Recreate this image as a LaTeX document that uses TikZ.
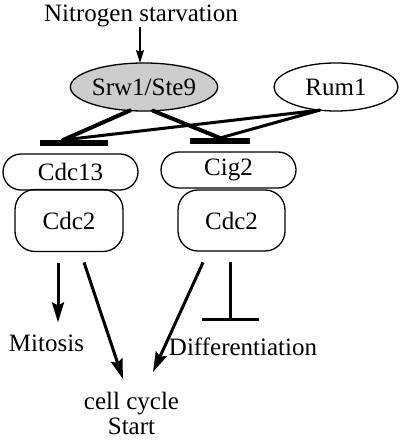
\documentclass[tikz,border=0pt]{standalone}
\usepackage{fontspec}
\setmainfont{Liberation Serif}
\usetikzlibrary{arrows.meta,shapes.geometric}

\begin{document}
\begin{tikzpicture}[x=1pt,y=1pt,
  lbl/.style={inner sep=0pt,outer sep=0pt,font=\fontsize{25}{25}\selectfont},
  prot/.style={lbl,draw=drawColor,line width=1.3pt,ellipse,minimum height=48pt},
  cplx/.style={lbl,draw=drawColor,line width=1.3pt,rounded corners=18pt},
  tbar/.style={fill=drawColor,inner sep=0pt,outer sep=0pt,minimum height=6pt},
  act/.style={draw=drawColor,line width=3pt,-{Stealth[length=20pt,width=12pt,inset=3pt]}},
  inh/.style={draw=drawColor,line width=3pt,-{Bar[width=57pt,line width=3pt]}},
  lnk/.style={draw=drawColor,line cap=round}]
\definecolor{drawColor}{RGB}{0,0,0}
\definecolor{fillColor}{RGB}{255,255,255}
\definecolor{srwColor}{RGB}{205,205,205}
\path[use as bounding box,fill=fillColor] (0,0) rectangle (400,441);

% signal and regulators
\node[lbl,anchor=base] (nitro) at (141,419) {Nitrogen starvation};
\node[prot,fill=srwColor,minimum width=144pt] (srw) at (144,354) {Srw1/Ste9};
\node[prot,minimum width=124pt] (rum) at (336,354) {Rum1};

% inhibition bars
\node[tbar,minimum width=68pt] (barL) at (74,298) {};
\node[tbar,minimum width=60pt] (barR) at (220,300) {};

% cyclin / Cdc2 complexes
\node[cplx,minimum width=135pt,minimum height=36pt] (cdc13) at (70.5,269) {Cdc13};
\node[cplx,minimum width=108pt,minimum height=62pt,rounded corners=20pt] (cdc2L) at (69,220.5) {Cdc2};
\node[cplx,minimum width=135pt,minimum height=36pt] (cig2) at (228.5,271) {Cig2};
\node[cplx,minimum width=107pt,minimum height=61pt,rounded corners=20pt] (cdc2R) at (231.5,220.5) {Cdc2};

% outcomes
\node[lbl,anchor=base] (mitosis) at (46.5,89) {Mitosis};
\node[lbl,anchor=base] (diff) at (243,85) {Differentiation};
\node[lbl,anchor=north,align=center] (start) at (131.5,49) {cell cycle\\Start};

% connectors
\draw[draw=drawColor,line width=1.5pt,-{Stealth[length=13pt,width=8pt,inset=2pt]}]
  ([xshift=-1pt]nitro.south) -- ([xshift=-4pt]srw.north);
\draw[lnk,line width=4pt] (srw.239) -- ([xshift=-11pt]barL.north);
\draw[lnk,line width=4pt] (srw.291) -- (barR.north);
\draw[lnk,line width=3pt] (rum.235) -- ([xshift=-11pt]barL.north);
\draw[lnk,line width=3pt] (rum.235) -- (barR.north);

\draw[act] ([xshift=-11pt,yshift=-12pt]cdc2L.south) -- ([xshift=11.5pt,yshift=13pt]mitosis.north);
\draw[act] ([xshift=15pt,yshift=-11pt]cdc2L.south) -- ([xshift=-8.5pt,yshift=13pt]start.north);
\draw[act] ([xshift=-28.5pt,yshift=-11.5pt]cdc2R.south) -- ([xshift=21.5pt,yshift=20pt]start.north);
\draw[inh] ([xshift=-1.5pt,yshift=-11.5pt]cdc2R.south) -- ([xshift=-13pt,yshift=17pt]diff.north);
\end{tikzpicture}
\end{document}
